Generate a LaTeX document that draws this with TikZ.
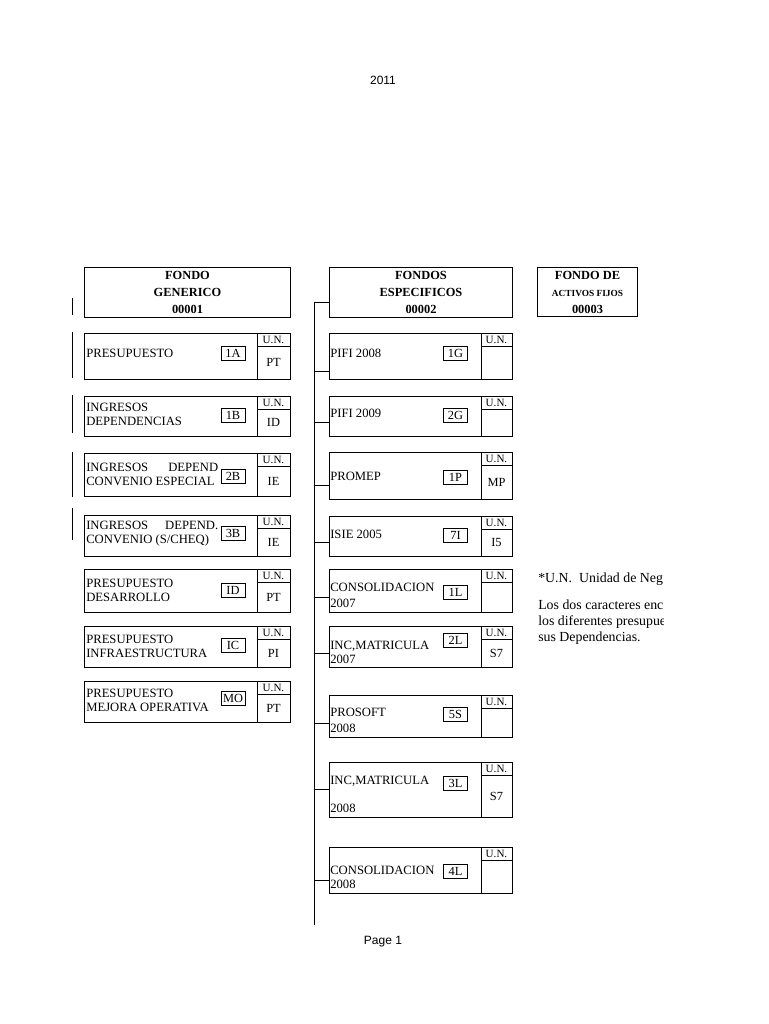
\documentclass[tikz,border=0pt]{standalone}
\usepackage{fontspec}
\setmainfont{Liberation Serif}
\newfontfamily\pagefont{Liberation Sans}
\usetikzlibrary{positioning}

\begin{document}
\begin{tikzpicture}[x=0.75pt, y=-0.75pt,
  fondoBox/.style={draw, line width=0.75pt, anchor=north west, inner sep=0pt},
  headText/.style={font=\bfseries\fontsize{9.3}{12.75}\selectfont, align=center, inner sep=0pt},
  itemText/.style={font=\fontsize{9.5}{10.5}\selectfont, anchor=west, align=left, inner sep=0pt},
  codeBox/.style={draw, line width=0.6pt, minimum width=18pt, minimum height=10.5pt,
                  inner sep=0pt, font=\fontsize{9.3}{9}\selectfont},
  unText/.style={font=\fontsize{8.3}{8}\selectfont, inner sep=0pt},
  unCode/.style={font=\fontsize{9.3}{9}\selectfont, inner sep=0pt},
  noteText/.style={font=\fontsize{10.4}{12}\selectfont, anchor=base west, inner sep=0pt},
  pageText/.style={font=\pagefont\fontsize{9}{11}\selectfont, inner sep=0pt}
]
  \useasboundingbox (0,0) rectangle (768,1024);

  \node[pageText] (year) at (383,80) {2011};

  % Headers
  \node[fondoBox, minimum width=154.5pt, minimum height=37.5pt] (hGen) at (84,267) {};
  \node[headText] at (hGen.center) {FONDO\\GENERICO\\00001};
  \node[fondoBox, minimum width=137.25pt, minimum height=37.5pt] (hEsp) at (329,267) {};
  \node[headText] at (hEsp.center) {FONDOS\\ESPECIFICOS\\00002};
  \node[fondoBox, minimum width=75pt, minimum height=37pt] (hAct) at (537,267) {};
  \node[headText] at (hAct.center) {FONDO DE\\{\fontsize{7}{12.75}\selectfont ACTIVOS FIJOS}\\00003};

  % Fondo generico
  \foreach \i/\t/\b/\ty/\txt/\code/\cy/\un in {
    1/333/379/353/{PRESUPUESTO}/1A/353.5/PT,
    2/396/436/414/{INGRESOS\\DEPENDENCIAS}/1B/415/ID,
    3/453/496/474.5/{\makebox[99pt][s]{INGRESOS DEPEND}\\CONVENIO ESPECIAL}/2B/476/IE,
    4/515/556/534/{\makebox[99pt][s]{INGRESOS DEPEND.}\\CONVENIO (S/CHEQ)}/3B/533.5/IE,
    5/569/612/590.5/{PRESUPUESTO\\DESARROLLO}/ID/590/PT,
    6/626/667/646/{PRESUPUESTO\\INFRAESTRUCTURA}/IC/645/PI,
    7/681/722/700.5/{PRESUPUESTO\\MEJORA OPERATIVA}/MO/698.5/PT} {
    \node[fondoBox, minimum width=154.5pt, minimum height={(\b-\t)*0.75pt}] (l\i) at (84,\t) {};
    \draw[line width=0.6pt] (257,\t) -- (257,\b);
    \draw[line width=0.6pt] (257,\t+13) -- (290,\t+13);
    \node[itemText] (lt\i) at (86,\ty) {\txt};
    \node[codeBox] (lc\i) at (233,\cy) {\code};
    \node[unText] at (273.5,\t+6.5) {U.N.};
    \node[unCode] at (273.5,{(\t+13+\b)/2}) {\un};
  }

  % Fondos especificos
  \coordinate (trunkTop) at (314,302);
  \coordinate (trunkEnd) at (314,925);
  \draw[line width=0.75pt] (trunkTop) -- (trunkEnd);
  \draw[line width=0.75pt] (trunkTop) -- (trunkTop -| hEsp.west);
  \foreach \i/\t/\b/\ty/\txt/\code/\cy/\un/\by in {
    1/333/379/353/{PIFI 2008}/1G/353.5/{}/371,
    2/396/436/413/{PIFI 2009}/2G/415.5/{}/422,
    3/452/499/476/{PROMEP}/1P/477.5/MP/485,
    4/516/556/534/{ISIE 2005}/7I/535.5/I5/542,
    5/569/612/595/{CONSOLIDACION\\[1.5pt]2007}/1L/592/{}/597,
    6/626/667/652/{INC,MATRICULA\\2007}/2L/640.5/S7/653,
    7/695/737/720/{PROSOFT\\[1.5pt]2008}/5S/714/{}/723,
    8/762/817/794/{INC,MATRICULA\\[10.5pt]2008}/3L/783/S7/789,
    9/847/893/877/{CONSOLIDACION\\2008}/4L/871/{}/880} {
    \node[fondoBox, minimum width=137.25pt, minimum height={(\b-\t)*0.75pt}] (m\i) at (329,\t) {};
    \draw[line width=0.6pt] (481,\t) -- (481,\b);
    \draw[line width=0.6pt] (481,\t+13) -- (512,\t+13);
    \node[itemText] (mt\i) at (330,\ty) {\txt};
    \node[codeBox] (mc\i) at (455.5,\cy) {\code};
    \node[unText] at (496.5,\t+6.5) {U.N.};
    \node[unCode] at (496.5,{(\t+13+\b)/2}) {\un};
    \coordinate (br\i) at (314,\by);
    \draw[line width=0.75pt] (br\i) -- (br\i -| m\i.west);
  }

  % marks at the left margin
  \foreach \ya/\yb in {298/315, 332/378, 395/433, 452/497, 508/540}
    \draw[line width=0.6pt] (72,\ya) -- (72,\yb);

  % Note
  \begin{scope}
    \clip (530,560) rectangle (663,650);
    \node[noteText] (note1) at (538,582) {*U.N.\ \ Unidad de Neg};
    \node[noteText] (note2) at (538,609) {Los dos caracteres enc};
    \node[noteText] (note3) at (538,625) {los diferentes presupue};
    \node[noteText] (note4) at (538,641) {sus Dependencias.};
  \end{scope}

  \node[pageText] (page) at (383,942) {Page 1};
\end{tikzpicture}
\end{document}
